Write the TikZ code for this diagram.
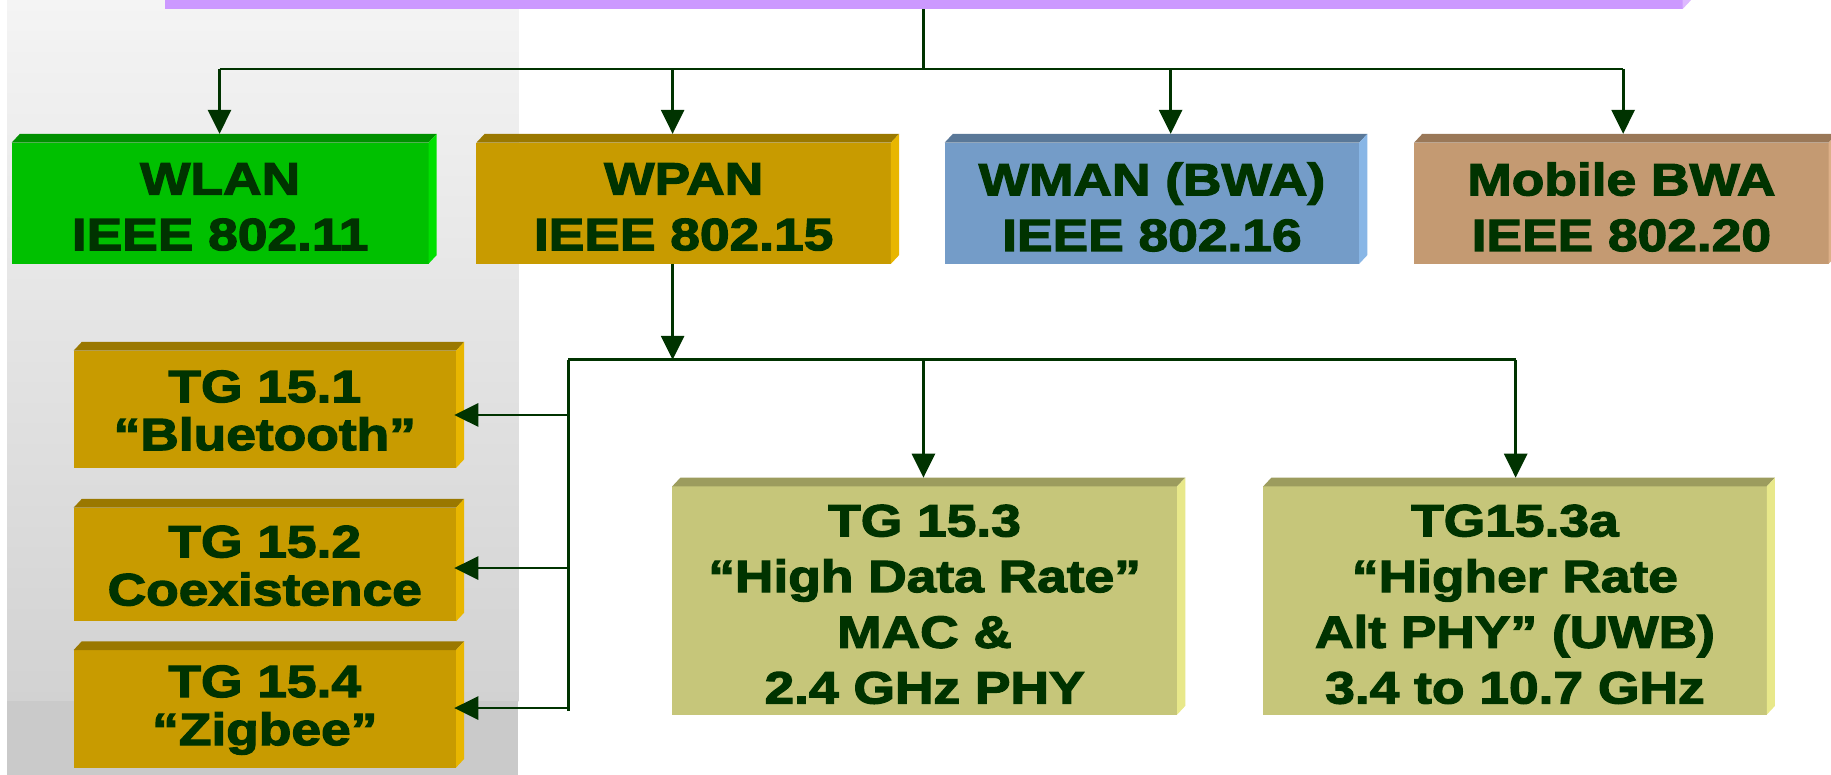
\documentclass[tikz,border=0pt]{standalone}
\usepackage{fontspec}
\newfontfamily\boxfont{Liberation Sans}[FakeStretch=1.18, BoldFeatures={FakeBold=2.8}]
\usetikzlibrary{arrows.meta,calc}
\definecolor{txt}{HTML}{003300}
\definecolor{ln}{HTML}{003300}
\definecolor{purF}{HTML}{CC99FF}\definecolor{purT}{HTML}{A87CD6}\definecolor{purS}{HTML}{DDB8FF}
\definecolor{grF}{HTML}{00C000}\definecolor{grT}{HTML}{009000}\definecolor{grS}{HTML}{00E000}
\definecolor{goF}{HTML}{C89B00}\definecolor{goT}{HTML}{9A7800}\definecolor{goS}{HTML}{E8B600}
\definecolor{blF}{HTML}{749CC8}\definecolor{blT}{HTML}{5A7898}\definecolor{blS}{HTML}{88B6E6}
\definecolor{brF}{HTML}{C49A72}\definecolor{brT}{HTML}{9A7858}\definecolor{brS}{HTML}{DDB088}
\definecolor{khF}{HTML}{C6C67A}\definecolor{khT}{HTML}{9C9C5E}\definecolor{khS}{HTML}{E8E88A}
\definecolor{panT}{HTML}{F4F4F4}\definecolor{panB}{HTML}{D2D2D2}\definecolor{panBand}{HTML}{CACACA}
\tikzset{
  boxnode/.style={inner sep=0pt, outer sep=0pt},
  boxtext/.style={inner sep=0pt, outer sep=0pt, align=center, text=txt, yshift=-1.9pt,
    font=\boxfont\bfseries\fontsize{22.6}{27.85}\selectfont},
  tightfont/.style={yshift=1.3pt, font=\boxfont\bfseries\fontsize{22.6}{24}\selectfont},
  conn/.style={draw=ln, line width=1.35pt},
  arr/.style={conn, -{Triangle[width=11.5pt,length=12pt]}},
}
% name, x1, y1, x2, y2, colour prefix, extra text style, text
\newcommand{\tdbox}[8]{%
  \node[boxnode, fill=#6F, minimum width={(#4-#2)*0.58386pt}, minimum height={(#5-#3)*0.58358pt}] (#1) at ({(#2+#4)/2},{(#3+#5)/2}) {};
  \fill[#6T] (#1.north west) -- ++(7,-7.5) -- ([shift={(7,-7.5)}]#1.north east) -- (#1.north east) -- cycle;
  \fill[#6S] (#1.north east) -- ++(7,-7.5) -- ([shift={(7,-7.5)}]#1.south east) -- (#1.south east) -- cycle;
  \node[boxtext, #7] (#1txt) at (#1.center) {#8};
}
\begin{document}
\begin{tikzpicture}[x=0.58386pt, y=-0.58358pt]
\useasboundingbox (0,0) rectangle (1568,664);
\clip (0,0) rectangle (1568,664);
\fill[white] (0,0) rectangle (1568,664);
% grey panel
\shade[top color=panT, bottom color=panB] (6,0) rectangle (444,601);
\fill[panBand] (6,601) rectangle (444,664);
% top bar
\tdbox{purple}{141}{-40}{1441}{7.7}{pur}{}{}
% first row
\tdbox{wlan}{10}{122.2}{367}{226}{gr}{}{WLAN\\IEEE 802.11}
\tdbox{wpan}{408}{122.2}{763}{226}{go}{}{WPAN\\IEEE 802.15}
\tdbox{wman}{809}{122.2}{1164}{226}{bl}{}{WMAN (BWA)\\IEEE 802.16}
\tdbox{mob}{1211}{122.2}{1566}{226}{br}{}{Mobile BWA\\IEEE 802.20}
% task groups
\tdbox{tga}{63}{300.5}{390.5}{401}{go}{tightfont}{TG 15.1\\“Bluetooth”}
\tdbox{tgb}{63}{435}{390.5}{532.4}{go}{tightfont}{TG 15.2\\Coexistence}
\tdbox{tgd}{63}{557}{390.5}{657.7}{go}{tightfont}{TG 15.4\\“Zigbee”}
\tdbox{tgc}{575.6}{416.8}{1008}{612.3}{kh}{}{TG 15.3\\“High Data Rate”\\MAC \&\\2.4 GHz PHY}
\tdbox{tge}{1081.7}{416.8}{1513}{612.3}{kh}{}{TG15.3a\\“Higher Rate\\Alt PHY” (UWB)\\3.4 to 10.7 GHz}
% arrow tips and bus points
\coordinate (wlanT) at ($(wlan.north)+(-0.5,-7.5)$);
\coordinate (wpanT) at ($(wpan.north)+(-9.5,-7.5)$);
\coordinate (wmanT) at ($(wman.north)+(16,-7.5)$);
\coordinate (mobT)  at ($(mob.north)+(1.5,-7.5)$);
\coordinate (busA) at ($(purple.south)+(0,51.3)$);
\coordinate (busB) at (486.7,308.3);
\coordinate (busBend) at (486.7,609.5);
\coordinate (tgaT) at ($(tga.east)+(-1.5,4.8)$);
\coordinate (tgbT) at ($(tgb.east)+(-1.5,3)$);
\coordinate (tgdT) at ($(tgd.east)+(-1.5,-0.7)$);
\coordinate (tgcT) at ($(tgc.north)+(-1,-7.5)$);
\coordinate (tgeT) at ($(tge.north)+(0.6,-7.5)$);
% top connectors
\draw[conn] (purple.south) -- (busA);
\draw[conn] (wlanT |- busA) -- (mobT |- busA);
\foreach \t in {wlanT,wpanT,wmanT,mobT} \draw[arr] (\t |- busA) -- (\t);
% WPAN connectors
\draw[arr] (wpanT |- wpan.south) -- (wpanT |- busB);
\draw[conn] (busB) -- (tgeT |- busB);
\draw[conn] (busB) -- (busBend);
\foreach \t in {tgaT,tgbT,tgdT} \draw[arr] (busB |- \t) -- (\t);
\draw[arr] (tgcT |- busB) -- (tgcT);
\draw[arr] (tgeT |- busB) -- (tgeT);
\end{tikzpicture}
\end{document}
